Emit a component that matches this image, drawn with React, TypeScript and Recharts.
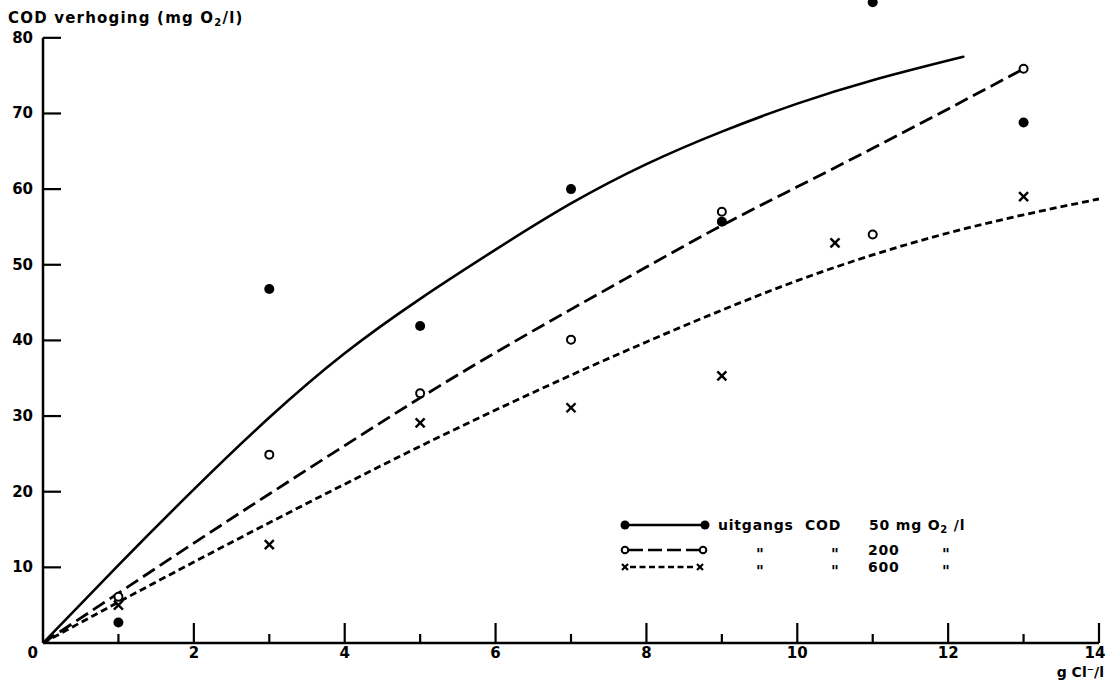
import React from "react";
import {
  ComposedChart,
  Line,
  Scatter,
  XAxis,
  YAxis,
  ReferenceLine,
  Legend,
} from "recharts";

// ---- data ----
const xTicks = [0, 1, 2, 3, 4, 5, 6, 7, 8, 9, 10, 11, 12, 13, 14];
const yTicks = [0, 10, 20, 30, 40, 50, 60, 70, 80];

const measX = [1, 3, 5, 7, 9, 11, 13];
const cod50Values = [2.7, 46.8, 41.9, 60, 55.7, 84.7, 68.8];
const cod200Values = [6.1, 24.9, 33, 40.1, 57, 54, 75.9];
const cod600X = [1, 3, 5, 7, 9, 10.5, 13];
const cod600Values = [5, 13, 29.1, 31.1, 35.3, 52.9, 59];

const curve50X = [0, 1, 2, 3, 4, 5, 6, 7, 8, 9, 10, 11, 12, 12.2];
const curve50Y = [0, 10.3, 20.3, 29.8, 38.3, 45.5, 52, 58.1, 63.3, 67.6, 71.3, 74.4, 77, 77.5];
const curve200X = [0, 1, 2, 3, 4, 5, 6, 7, 8, 9, 10, 11, 12, 13];
const curve200Y = [0, 6.6, 13.2, 19.7, 26.1, 32.4, 38.4, 44.1, 49.7, 55.2, 60.3, 65.4, 70.6, 75.9];
const curve600X = [0, 1, 2, 3, 4, 5, 6, 7, 8, 9, 10, 11, 12, 13, 14];
const curve600Y = [0, 5.4, 10.7, 15.9, 21, 26, 30.8, 35.4, 39.8, 44, 47.9, 51.3, 54.2, 56.6, 58.7];

const zip = (xs: number[], ys: number[]) => xs.map((x, i) => ({ x, y: ys[i] }));

const curve50 = zip(curve50X, curve50Y);
const curve200 = zip(curve200X, curve200Y);
const curve600 = zip(curve600X, curve600Y);
const pts50 = zip(measX, cod50Values);
const pts200 = zip(measX, cod200Values);
const pts600 = zip(cod600X, cod600Values);

const FONT = "'DejaVu Sans', sans-serif";
const INK = "#000";

const FilledDot = (p: any) => <circle cx={p.cx} cy={p.cy} r={5} fill={INK} />;
const OpenDot = (p: any) => (
  <circle cx={p.cx} cy={p.cy} r={4} fill="#fff" stroke={INK} strokeWidth={2} />
);
const Cross = (p: any) => (
  <g stroke={INK} strokeWidth={2.4}>
    <line x1={p.cx - 4.5} y1={p.cy - 4.5} x2={p.cx + 4.5} y2={p.cy + 4.5} />
    <line x1={p.cx - 4.5} y1={p.cy + 4.5} x2={p.cx + 4.5} y2={p.cy - 4.5} />
  </g>
);

const XTick = (props: any) => {
  const { x, y, payload } = props;
  const v = payload.value;
  const major = v % 2 === 0;
  return (
    <g>
      {v !== 0 && (
        <line x1={x} x2={x} y1={y} y2={y - (major ? 20 : 9)} stroke={INK} strokeWidth={2.2} />
      )}
      {major && v !== 0 && (
        <text
          x={v === 14 ? x - 4 : x}
          y={y + 15}
          textAnchor="middle"
          fontFamily={FONT}
          fontWeight={700}
          fontSize={15}
          fill={INK}
        >
          {v}
        </text>
      )}
    </g>
  );
};

const YTick = (props: any) => {
  const { x, y, payload } = props;
  const v = payload.value;
  if (v === 0) {
    return (
      <text x={x - 5} y={y + 15} textAnchor="end" fontFamily={FONT} fontWeight={700} fontSize={15} fill={INK}>
        0
      </text>
    );
  }
  return (
    <g>
      <line x1={x} x2={x + 18} y1={y} y2={y} stroke={INK} strokeWidth={2.2} />
      <text x={x - 10} y={y + 5} textAnchor="end" fontFamily={FONT} fontWeight={700} fontSize={15} fill={INK}>
        {v}
      </text>
    </g>
  );
};

const txt = { fontFamily: FONT, fontWeight: 700, fontSize: 14, fill: INK, letterSpacing: 0.8 } as any;
const ditto = { fontFamily: FONT, fontWeight: 700, fontSize: 15, fill: INK } as any;

const LegendBox = () => (
  <svg width={400} height={62} style={{ display: "block", overflow: "visible" }}>
    {/* row 1 */}
    <line x1={10} x2={90} y1={10} y2={10} stroke={INK} strokeWidth={2.5} />
    <circle cx={10} cy={10} r={4.5} fill={INK} />
    <circle cx={90} cy={10} r={4.5} fill={INK} />
    <text x={103} y={15} {...txt}>uitgangs</text>
    <text x={190} y={15} {...txt}>COD</text>
    <text x={254} y={15} {...txt}>
      50 mg O<tspan dy={3} fontSize={10}>2</tspan>
      <tspan dy={-3}> /l</tspan>
    </text>
    {/* row 2 */}
    <line x1={14} x2={84} y1={35} y2={35} stroke={INK} strokeWidth={2.5} strokeDasharray="14 5" />
    <circle cx={10} cy={35} r={3.3} fill="#fff" stroke={INK} strokeWidth={2} />
    <circle cx={88} cy={35} r={3.3} fill="#fff" stroke={INK} strokeWidth={2} />
    <text x={141} y={45} {...ditto}>"</text>
    <text x={216} y={45} {...ditto}>"</text>
    <text x={253} y={40} {...txt}>200</text>
    <text x={327} y={45} {...ditto}>"</text>
    {/* row 3 */}
    <line x1={15} x2={80} y1={52} y2={52} stroke={INK} strokeWidth={2.5} strokeDasharray="6 3.5" />
    <g stroke={INK} strokeWidth={2.2}>
      <line x1={7} y1={49} x2={13} y2={55} />
      <line x1={7} y1={55} x2={13} y2={49} />
      <line x1={82} y1={49} x2={88} y2={55} />
      <line x1={82} y1={55} x2={88} y2={49} />
    </g>
    <text x={141} y={62} {...ditto}>"</text>
    <text x={216} y={62} {...ditto}>"</text>
    <text x={253} y={57} {...txt}>600</text>
    <text x={327} y={62} {...ditto}>"</text>
  </svg>
);

export default function App() {
  return (
    <div style={{ position: "absolute", left: 0, top: 0, width: 1107, height: 682, background: "#fff" }}>
      <ComposedChart
        width={1107}
        height={682}
        margin={{ top: 0, right: 8, bottom: 0, left: 0 }}
        style={{ background: "#fff" }}
      >
        <XAxis
          type="number"
          dataKey="x"
          domain={[0, 14]}
          ticks={xTicks}
          interval={0}
          height={39}
          tickSize={0}
          tickMargin={0}
          tickLine={false}
          tick={<XTick />}
          axisLine={{ stroke: INK, strokeWidth: 2.5 }}
          allowDataOverflow
          label={{
            content: () => (
              <text x={1104} y={677} textAnchor="end" fontFamily={FONT} fontWeight={700} fontSize={14} fill={INK}>
                g Cl⁻/l
              </text>
            ),
          }}
        />
        <YAxis
          type="number"
          dataKey="y"
          domain={[0, 85]}
          ticks={yTicks}
          interval={0}
          width={43}
          tickSize={0}
          tickMargin={0}
          tickLine={false}
          axisLine={false}
          tick={<YTick />}
          allowDataOverflow
          label={{
            content: () => (
              <text x={8} y={23} fontFamily={FONT} fontWeight={700} fontSize={15} letterSpacing={1.2} fill={INK}>
                COD verhoging (mg O<tspan dy={3} fontSize={10}>2</tspan>
                <tspan dy={-3}>/l)</tspan>
              </text>
            ),
          }}
        />
        <ReferenceLine
          segment={[
            { x: 0, y: 0 },
            { x: 0, y: 80 },
          ]}
          stroke={INK}
          strokeWidth={2.5}
          ifOverflow="visible"
        />
        <Line
          data={curve50}
          dataKey="y"
          type="natural"
          stroke={INK}
          strokeWidth={2.6}
          dot={false}
          activeDot={false}
          isAnimationActive={false}
          legendType="none"
        />
        <Line
          data={curve200}
          dataKey="y"
          type="natural"
          stroke={INK}
          strokeWidth={2.8}
          strokeDasharray="14 6"
          dot={false}
          activeDot={false}
          isAnimationActive={false}
          legendType="none"
        />
        <Line
          data={curve600}
          dataKey="y"
          type="natural"
          stroke={INK}
          strokeWidth={2.8}
          strokeDasharray="7 4"
          dot={false}
          activeDot={false}
          isAnimationActive={false}
          legendType="none"
        />
        <Scatter data={pts50} dataKey="y" shape={FilledDot} isAnimationActive={false} legendType="none" />
        <Scatter data={pts200} dataKey="y" shape={OpenDot} isAnimationActive={false} legendType="none" />
        <Scatter data={pts600} dataKey="y" shape={Cross} isAnimationActive={false} legendType="none" />
        <Legend
          layout="horizontal"
          verticalAlign="middle"
          align="left"
          content={() => <LegendBox />}
          wrapperStyle={{ position: "absolute", left: 615, top: 515, width: 0, height: 0, overflow: "visible" }}
        />
      </ComposedChart>
    </div>
  );
}
